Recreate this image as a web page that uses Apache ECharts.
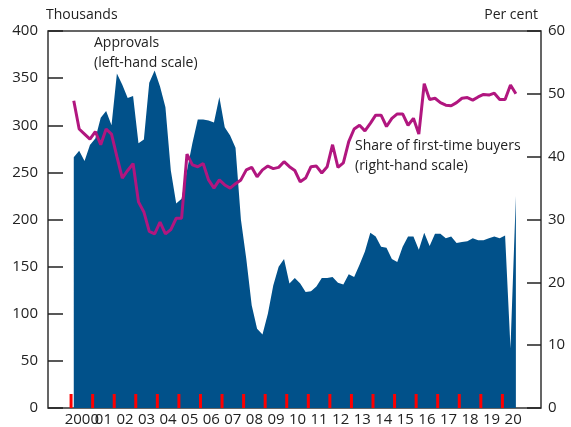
<!DOCTYPE html>
<html>
<head>
<meta charset="utf-8">
<script src="https://cdn.jsdelivr.net/npm/echarts@6/dist/echarts.min.js"></script>
<style>
  html, body { margin: 0; padding: 0; background: #fff; }
  #chart { width: 571px; height: 427px; }
</style>
</head>
<body>
<div id="chart"></div>
<script>
// quarterly data, 2000 Q1 - 2020 Q3
const firstYear = 2000
const tickYears = [2000, 2001, 2002, 2003, 2004, 2005, 2006, 2007, 2008, 2009, 2010,
  2011, 2012, 2013, 2014, 2015, 2016, 2017, 2018, 2019, 2020]
const yearLabels = ['2000', '01', '02', '03', '04', '05', '06', '07', '08', '09', '10',
  '11', '12', '13', '14', '15', '16', '17', '18', '19', '20']

// mortgage approvals, thousands (left-hand scale)
const approvals = [
  266, 273, 262, 279, 286, 308, 315, 300,
  355, 343, 329, 331, 281, 285, 345, 358,
  341, 319, 252, 217, 222, 252, 281, 306,
  306, 305, 303, 330, 298, 289, 276, 200,
  158, 109, 84, 78, 100, 130, 150, 158,
  132, 138, 132, 123, 124, 129, 138, 138,
  139, 133, 131, 142, 139, 152, 166, 186,
  182, 171, 170, 158, 155, 171, 182, 182,
  168, 186, 172, 185, 185, 180, 182, 175,
  176, 177, 180, 178, 178, 180, 182, 180,
  183, 63, 225
]

// share of first-time buyers, per cent (right-hand scale)
const ftbShare = [
  48.9, 44.4, 43.6, 42.8, 44.0, 41.9, 44.4, 43.6,
  40.0, 36.6, 37.8, 38.9, 32.8, 31.2, 28.1, 27.7,
  29.6, 27.7, 28.4, 30.2, 30.2, 40.4, 38.7, 38.4,
  38.9, 36.3, 35.0, 36.3, 35.5, 35.0, 35.7, 36.3,
  37.9, 38.3, 36.8, 37.9, 38.5, 38.1, 38.3, 39.2,
  38.4, 37.8, 36.0, 36.6, 38.4, 38.5, 37.4, 38.4,
  41.9, 38.3, 39.0, 42.4, 44.4, 45.0, 44.1, 45.3,
  46.6, 46.6, 44.8, 46.1, 46.8, 46.8, 45.0, 46.1,
  43.6, 51.6, 49.1, 49.3, 48.6, 48.2, 48.1, 48.6,
  49.3, 49.4, 49.0, 49.5, 49.9, 49.8, 50.1, 49.1,
  49.1, 51.4, 50.0
]

// each quarter plotted at its mid-point
const quarterTime = i => firstYear + Math.floor(i / 4) + ((i % 4) + 0.5) / 4

const textColor = '#222'
const font = 'Open Sans'
const xMin = 1998.93
const xMax = 2021.79

const labelFor = v => yearLabels[Math.round(v - 0.5) - firstYear]

const chart = echarts.init(document.getElementById('chart'))
chart.setOption({
  animation: false,
  textStyle: { fontFamily: font },
  grid: {
    left: 48,
    right: 30,
    top: 31,
    bottom: 19,
    show: true,
    borderColor: '#333',
    borderWidth: 1.5
  },
  xAxis: [{
    // labels 01 .. 20, centred in each year
    type: 'value',
    min: xMin,
    max: xMax,
    splitLine: { show: false },
    axisLine: { show: false },
    axisTick: { show: false },
    axisLabel: {
      customValues: tickYears.slice(1).map(y => y + 0.5),
      formatter: labelFor,
      color: textColor,
      fontSize: 15,
      margin: 4
    }
  }, {
    // separate axis for the '2000' label so it is not dropped as overlapping
    type: 'value',
    position: 'bottom',
    min: xMin,
    max: xMax,
    splitLine: { show: false },
    axisLine: { show: false },
    axisTick: { show: false },
    axisLabel: {
      customValues: [tickYears[0] + 0.5],
      formatter: labelFor,
      color: textColor,
      fontSize: 15,
      margin: 4
    }
  }],
  yAxis: [{
    type: 'value',
    min: 0,
    max: 400,
    interval: 50,
    name: 'Thousands',
    nameLocation: 'end',
    nameGap: 9,
    nameTextStyle: { align: 'left', color: textColor, fontSize: 14, padding: [0, 0, 0, -2] },
    splitLine: { show: false },
    axisLine: { show: false },
    axisTick: { show: true, inside: true, length: 15, lineStyle: { color: '#222', width: 1.5 } },
    axisLabel: { color: textColor, fontSize: 15, margin: 10 }
  }, {
    type: 'value',
    position: 'right',
    min: 0,
    max: 60,
    interval: 10,
    name: 'Per cent',
    nameLocation: 'end',
    nameGap: 9,
    nameTextStyle: { align: 'right', color: textColor, fontSize: 14, padding: [0, 3, 0, 0] },
    splitLine: { show: false },
    axisLine: { show: false },
    axisTick: { show: true, inside: true, length: 14, lineStyle: { color: '#222', width: 1.5 } },
    axisLabel: { color: textColor, fontSize: 15, margin: 7 }
  }],
  series: [{
    name: 'Approvals',
    type: 'line',
    yAxisIndex: 0,
    z: 1,
    showSymbol: false,
    lineStyle: { width: 0 },
    areaStyle: { color: '#01518a', opacity: 1 },
    data: approvals.map((v, i) => [quarterTime(i), v])
  }, {
    name: 'Share of first-time buyers',
    type: 'line',
    yAxisIndex: 1,
    z: 3,
    showSymbol: false,
    lineStyle: { width: 3, color: '#b1167f' },
    itemStyle: { color: '#b1167f' },
    data: ftbShare.map((v, i) => [quarterTime(i), v])
  }, {
    // year ticks on top of the area, placed through the x scale
    name: 'yearTicks',
    type: 'custom',
    yAxisIndex: 0,
    z: 10,
    silent: true,
    renderItem: function(params, api) {
      const p = api.coord([api.value(0), 0])
      return {
        type: 'line',
        shape: { x1: p[0], y1: p[1], x2: p[0], y2: p[1] - 14 },
        style: { stroke: '#ff0000', lineWidth: 3 }
      }
    },
    data: tickYears.map(y => [y, 0])
  }],
  graphic: [{
    type: 'text',
    left: 94,
    top: 33,
    style: {
      text: 'Approvals\n(left-hand scale)',
      fill: textColor,
      font: '14px "Open Sans"',
      lineHeight: 20
    }
  }, {
    type: 'text',
    left: 355,
    top: 136,
    style: {
      text: 'Share of first-time buyers\n(right-hand scale)',
      fill: textColor,
      font: '14px "Open Sans"',
      lineHeight: 20
    }
  }]
})
</script>
</body>
</html>
